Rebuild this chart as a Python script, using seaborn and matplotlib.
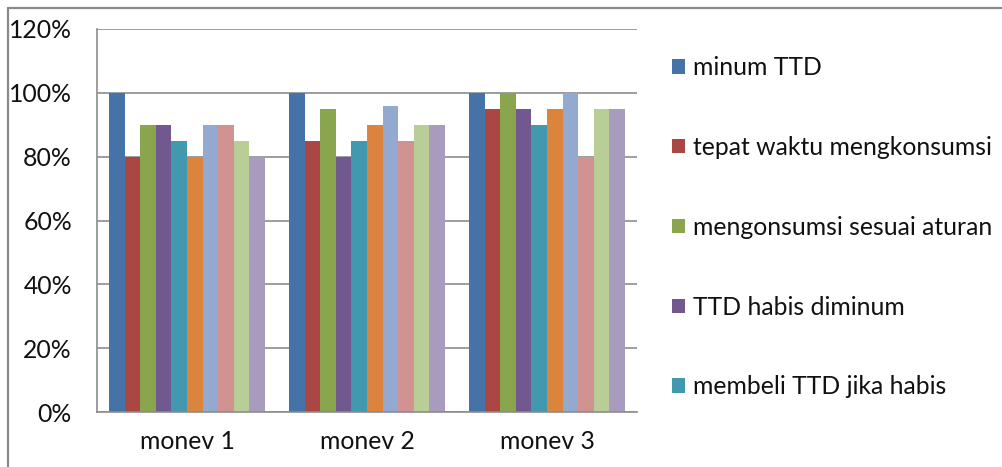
import numpy as np
import pandas as pd
import seaborn as sns
import matplotlib
matplotlib.use("Agg")
import matplotlib.pyplot as plt
from matplotlib.ticker import FuncFormatter, FixedLocator
from matplotlib.lines import Line2D

# Monitoring rounds
categories = ["monev 1", "monev 2", "monev 3"]

# Indicator names (the legend lists the first five)
series_names = [
    "minum TTD",
    "tepat waktu mengkonsumsi",
    "mengonsumsi sesuai aturan",
    "TTD habis diminum",
    "membeli TTD jika habis",
    "indikator 6",
    "indikator 7",
    "indikator 8",
    "indikator 9",
    "indikator 10",
]

# Percentages per indicator, one value per monitoring round
minum_ttd = [100, 100, 100]
tepat_waktu = [80, 85, 95]
sesuai_aturan = [90, 95, 100]
habis_diminum = [90, 80, 95]
membeli_ttd = [85, 85, 90]
indikator_6 = [80, 90, 95]
indikator_7 = [90, 96, 100]
indikator_8 = [90, 85, 80]
indikator_9 = [85, 90, 95]
indikator_10 = [80, 90, 95]

y_ticks = [0, 20, 40, 60, 80, 100, 120]

series_values = [minum_ttd, tepat_waktu, sesuai_aturan, habis_diminum, membeli_ttd,
                 indikator_6, indikator_7, indikator_8, indikator_9, indikator_10]

colors = ["#4572A7", "#AA4643", "#89A54E", "#71588F", "#4198AF",
          "#DB843D", "#93A9CF", "#D19392", "#B9CD96", "#A99BBD"]

rows = []
for name, vals in zip(series_names, series_values):
    for cat, v in zip(categories, vals):
        rows.append({"monev": cat, "indikator": name, "nilai": v})
df = pd.DataFrame(rows)

sns.set_style("white")
plt.rcParams["font.family"] = ["Lato", "DejaVu Sans"]

FS = 17.8
TEXT = "#111111"

W, H = 1003, 467
fig = plt.figure(figsize=(W / 100, H / 100), dpi=100)
ax = fig.add_axes([97 / W, (H - 412) / H, 540 / W, 383 / H])

sns.barplot(data=df, x="monev", y="nilai", hue="indikator", order=categories,
            hue_order=series_names, palette=colors, saturation=1, width=0.867,
            linewidth=0, errorbar=None, ax=ax)

grid_color = "#8C8C8C"
ax.set_ylim(0, 120)
ax.set_xlim(-0.5, 2.5)
ax.yaxis.set_major_locator(FixedLocator(y_ticks))
ax.yaxis.set_major_formatter(FuncFormatter(lambda v, p: f"{v:.0f}%"))
ax.grid(axis="y", color=grid_color, linewidth=1.2)
ax.set_axisbelow(True)

for side in ["top", "right"]:
    ax.spines[side].set_visible(False)
for side in ["left", "bottom"]:
    ax.spines[side].set_color(grid_color)
    ax.spines[side].set_linewidth(1.2)

ax.set_xlabel("")
ax.set_ylabel("")
ax.tick_params(axis="y", which="major", direction="out", length=7, width=1.2,
               color=grid_color, pad=11, labelsize=FS, labelcolor=TEXT)
ax.tick_params(axis="x", which="major", length=0, pad=13, labelsize=FS,
               labelcolor=TEXT)
ax.xaxis.set_minor_locator(FixedLocator([-0.5, 0.5, 1.5, 2.5]))
ax.tick_params(axis="x", which="minor", direction="out", length=6, width=1.2,
               color=grid_color)

handles, labels = ax.get_legend_handles_labels()
leg = ax.legend(handles[:5], labels[:5], loc="upper left",
                bbox_to_anchor=(672 / W, 1 - 56 / H), bbox_transform=fig.transFigure,
                frameon=False, fontsize=FS, handlelength=0.53, handleheight=0.53,
                handletextpad=0.3, labelspacing=2.3, borderaxespad=0, borderpad=0)
for t in leg.get_texts():
    t.set_color(TEXT)

# Outer chart border (top and left edges)
bx = 8 / W
by = 1 - 8 / H
fig.add_artist(Line2D([bx, bx], [0, by], transform=fig.transFigure,
                      color="#8A8A8A", linewidth=1.6))
fig.add_artist(Line2D([bx, 1], [by, by], transform=fig.transFigure,
                      color="#8A8A8A", linewidth=1.6))

fig.savefig("out.png", dpi=100)
